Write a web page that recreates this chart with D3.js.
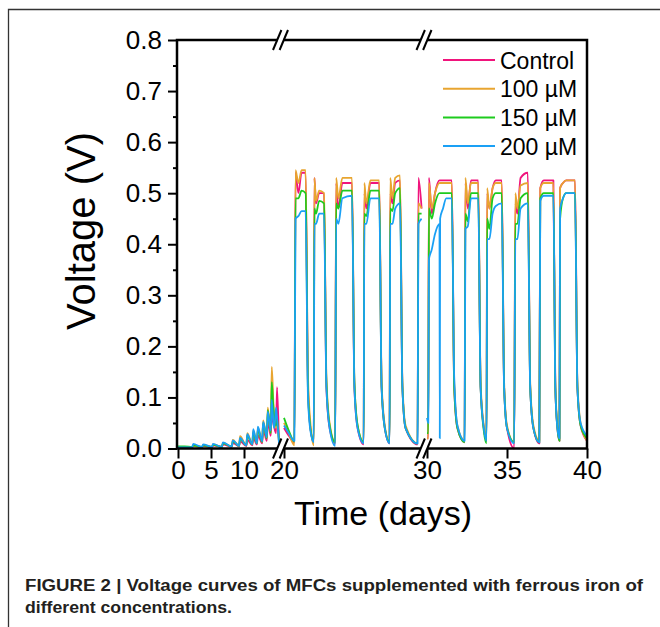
<!DOCTYPE html>
<html>
<head>
<meta charset="utf-8">
<script src="https://cdn.jsdelivr.net/npm/d3@7"></script>
<style>
  body { margin: 0; background: #fff; }
  text { font-family: "Liberation Sans", Arial, sans-serif; fill: #000; }
</style>
</head>
<body>
<div id="graph1"></div>
<script>
// legend names + colours
let seriesNames = ["Control", "100 \u00b5M", "150 \u00b5M", "200 \u00b5M"];
let seriesColors = ["#f0147c", "#e8a530", "#1ecb1e", "#1aa0f5"];

// y ticks
let yMajor = [0, 0.1, 0.2, 0.3, 0.4, 0.5, 0.6, 0.7, 0.8];
let yMinor = [0.05, 0.15, 0.25, 0.35, 0.45, 0.55, 0.65, 0.75];

// x ticks per axis segment
let xTicksA = [0, 5, 10];
let xTicksB = [20];
let xTicksC = [30, 35, 40];

// segment 1: days 0 - 15.3 (start-up)
let timeA = [0.0, 1.0, 2.15, 2.3, 3.65, 3.8, 5.15, 5.3, 6.65, 6.8, 8.15, 8.3, 9.25, 9.4, 10.35, 10.5,
    11.25, 11.4, 11.95, 12.1, 12.75, 12.9, 13.45, 13.6, 14.05, 14.2, 14.45, 14.6, 14.85, 15.0, 15.3];
let controlA = [0.002, 0.002, 0.002, 0.005, 0.002, 0.005, 0.002, 0.006, 0.003, 0.008, 0.003, 0.011, 0.004, 0.014, 0.005, 0.017,
    0.006, 0.021, 0.008, 0.026, 0.010, 0.038, 0.015, 0.055, 0.025, 0.070, 0.050, 0.040, 0.030, 0.120, 0.010];
let fe100A = [0.003, 0.003, 0.002, 0.006, 0.002, 0.007, 0.003, 0.008, 0.003, 0.011, 0.004, 0.017, 0.005, 0.024, 0.006, 0.030,
    0.008, 0.035, 0.010, 0.041, 0.013, 0.055, 0.020, 0.080, 0.030, 0.160, 0.090, 0.060, 0.040, 0.050, 0.010];
let fe150A = [0.004, 0.004, 0.003, 0.006, 0.003, 0.006, 0.003, 0.007, 0.003, 0.010, 0.004, 0.014, 0.005, 0.019, 0.006, 0.025,
    0.008, 0.031, 0.010, 0.037, 0.013, 0.050, 0.020, 0.075, 0.030, 0.130, 0.080, 0.060, 0.045, 0.060, 0.012];
let fe200A = [0.002, 0.002, 0.002, 0.009, 0.003, 0.008, 0.003, 0.009, 0.003, 0.012, 0.004, 0.016, 0.005, 0.021, 0.006, 0.028,
    0.008, 0.038, 0.010, 0.043, 0.014, 0.052, 0.022, 0.072, 0.035, 0.095, 0.050, 0.040, 0.080, 0.060, 0.010];

// segment 2: days 20 - 28.6
let timeB = [20.0, 20.3, 20.65, 20.72, 20.9, 21.1, 21.35, 21.5, 21.65, 21.86,
    21.9, 22.0, 22.2, 22.5, 22.65, 22.85, 23.2,
    23.26, 23.4, 23.65, 24.25, 24.4, 24.6, 24.98,
    25.02, 25.15, 25.4, 25.95, 26.1, 26.3, 26.6,
    26.64, 26.78, 26.95, 27.25, 27.4, 27.6, 28.35, 28.4, 28.6];
let controlB = [0.040, 0.025, 0.012, 0.540, 0.500, 0.540, 0.540, 0.120, 0.040, 0.012,
    0.530, 0.480, 0.500, 0.500, 0.120, 0.040, 0.010,
    0.520, 0.470, 0.520, 0.520, 0.120, 0.040, 0.008,
    0.500, 0.470, 0.520, 0.520, 0.120, 0.040, 0.010,
    0.500, 0.480, 0.520, 0.525, 0.120, 0.040, 0.008, 0.530, 0.470];
let fe100B = [0.050, 0.030, 0.006, 0.545, 0.520, 0.545, 0.545, 0.140, 0.050, 0.006,
    0.530, 0.485, 0.505, 0.500, 0.140, 0.050, 0.012,
    0.530, 0.490, 0.530, 0.530, 0.130, 0.045, 0.012,
    0.520, 0.480, 0.525, 0.525, 0.130, 0.045, 0.012,
    0.530, 0.490, 0.530, 0.535, 0.130, 0.045, 0.010, 0.480, 0.470];
let fe150B = [0.060, 0.035, 0.014, 0.490, 0.490, 0.505, 0.500, 0.110, 0.040, 0.014,
    0.470, 0.460, 0.485, 0.480, 0.130, 0.045, 0.012,
    0.480, 0.470, 0.505, 0.505, 0.130, 0.045, 0.012,
    0.460, 0.455, 0.505, 0.505, 0.120, 0.040, 0.012,
    0.470, 0.465, 0.500, 0.510, 0.120, 0.040, 0.010, 0.460, 0.460];
let fe200B = [0.045, 0.030, 0.015, 0.450, 0.455, 0.465, 0.465, 0.100, 0.035, 0.012,
    0.440, 0.440, 0.460, 0.460, 0.120, 0.040, 0.005,
    0.450, 0.440, 0.490, 0.495, 0.120, 0.040, 0.010,
    0.440, 0.440, 0.490, 0.490, 0.120, 0.040, 0.010,
    0.440, 0.440, 0.470, 0.480, 0.120, 0.040, 0.010, 0.440, 0.450];

// segment 3: days 30 - 40
let timeC = [30.0, 30.08, 30.12, 30.3, 30.5, 30.78, 30.8, 30.82, 31.0, 31.2, 31.55, 31.7, 31.9, 32.35,
    32.4, 32.55, 32.75, 33.2, 33.35, 33.55, 33.72,
    33.76, 33.9, 34.1, 34.3, 34.67, 34.82, 35.0, 35.45,
    35.52, 35.65, 35.85, 36.3, 36.45, 36.65, 37.02,
    37.08, 37.3, 37.9, 38.02, 38.15, 38.28,
    38.32, 38.5, 38.7, 39.25, 39.4, 39.6, 40.0];
let controlC = [0.020, 0.020, 0.530, 0.460, 0.500, 0.525, 0.525, 0.525, 0.525, 0.525, 0.525, 0.120, 0.040, 0.012,
    0.520, 0.470, 0.525, 0.525, 0.120, 0.040, 0.015,
    0.500, 0.470, 0.510, 0.525, 0.525, 0.120, 0.040, 0.000,
    0.480, 0.460, 0.530, 0.540, 0.120, 0.040, 0.010,
    0.510, 0.525, 0.525, 0.120, 0.040, 0.015,
    0.510, 0.520, 0.525, 0.525, 0.120, 0.045, 0.015];
let fe100C = [0.020, 0.020, 0.520, 0.470, 0.500, 0.520, 0.520, 0.520, 0.520, 0.520, 0.520, 0.130, 0.045, 0.015,
    0.530, 0.480, 0.520, 0.520, 0.130, 0.045, 0.020,
    0.510, 0.470, 0.510, 0.520, 0.520, 0.130, 0.045, 0.012,
    0.500, 0.470, 0.515, 0.520, 0.130, 0.045, 0.015,
    0.510, 0.520, 0.520, 0.130, 0.045, 0.020,
    0.510, 0.520, 0.525, 0.525, 0.130, 0.050, 0.015];
let fe150C = [0.030, 0.030, 0.470, 0.450, 0.480, 0.500, 0.500, 0.500, 0.500, 0.500, 0.500, 0.120, 0.040, 0.012,
    0.460, 0.445, 0.500, 0.500, 0.120, 0.035, 0.010,
    0.450, 0.430, 0.490, 0.500, 0.500, 0.120, 0.040, 0.012,
    0.440, 0.440, 0.490, 0.500, 0.120, 0.040, 0.012,
    0.490, 0.500, 0.500, 0.120, 0.040, 0.015,
    0.450, 0.490, 0.500, 0.500, 0.120, 0.045, 0.020];
let fe200C = [0.060, 0.050, 0.370, 0.390, 0.420, 0.440, 0.020, 0.450, 0.470, 0.490, 0.490, 0.140, 0.045, 0.015,
    0.430, 0.435, 0.490, 0.490, 0.120, 0.040, 0.015,
    0.410, 0.410, 0.460, 0.475, 0.480, 0.120, 0.040, 0.010,
    0.410, 0.410, 0.470, 0.480, 0.120, 0.040, 0.012,
    0.485, 0.495, 0.495, 0.120, 0.040, 0.020,
    0.470, 0.490, 0.500, 0.500, 0.120, 0.050, 0.025];

let width = 660, height = 627;
let plot = {left: 177, right: 587, top: 40, bottom: 448.5};

let svg = d3.select("#graph1")
    .append("svg")
    .attr("width", width)
    .attr("height", height);

// figure frame (top + left rule)
svg.append("path")
    .attr("d", "M8.5,627 L8.5,9.5 L660,9.5")
    .attr("fill", "none")
    .attr("stroke", "#333")
    .attr("stroke-width", 1.3);

let y = d3.scaleLinear().domain([0, 0.8]).range([plot.bottom, plot.top]);

// three pieces of the broken time axis
let segments = [
    {x: d3.scaleLinear().domain([0, 15.3]).range([178, 279]), t: timeA, vals: [controlA, fe100A, fe150A, fe200A], ticks: xTicksA},
    {x: d3.scaleLinear().domain([20, 28.6]).range([284, 421.6]), t: timeB, vals: [controlB, fe100B, fe150B, fe200B], ticks: xTicksB},
    {x: d3.scaleLinear().domain([30, 40]).range([427, 587]), t: timeC, vals: [controlC, fe100C, fe150C, fe200C], ticks: xTicksC}
];

let curves = svg.append("g");

segments.forEach(function(seg) {
    let line = d3.line()
        .x(function(d) { return seg.x(d[0]); })
        .y(function(d) { return y(d[1]); })
        .curve(d3.curveMonotoneX);

    seg.vals.forEach(function(vals, i) {
        curves.append("path")
            .datum(seg.t.map(function(t, j) { return [t, vals[j]]; }))
            .attr("fill", "none")
            .attr("stroke", seriesColors[i])
            .attr("stroke-width", 1.8)
            .attr("stroke-linejoin", "round")
            .attr("d", line);
    });

    // x ticks + labels
    let ax = svg.append("g")
        .attr("transform", `translate(0, ${plot.bottom})`)
        .call(d3.axisBottom(seg.x).tickValues(seg.ticks).tickSize(10).tickPadding(2).tickFormat(d3.format("d")));
    ax.select(".domain").remove();
    ax.selectAll("line").attr("stroke", "#000").attr("stroke-width", 2);
    ax.selectAll("text").style("font-size", "26px").attr("fill", "#000");
});

// y axis, major + minor
let yAxis = svg.append("g")
    .attr("transform", `translate(${plot.left}, 0)`)
    .call(d3.axisLeft(y).tickValues(yMajor).tickSize(9).tickPadding(6).tickFormat(d3.format(".1f")));
yAxis.select(".domain").remove();
yAxis.selectAll("line").attr("stroke", "#000").attr("stroke-width", 2);
yAxis.selectAll("text").style("font-size", "26px").attr("fill", "#000");

let yMinorAxis = svg.append("g")
    .attr("transform", `translate(${plot.left}, 0)`)
    .call(d3.axisLeft(y).tickValues(yMinor).tickSize(4).tickFormat(""));
yMinorAxis.select(".domain").remove();
yMinorAxis.selectAll("line").attr("stroke", "#000").attr("stroke-width", 2);

// plot frame
svg.append("rect")
    .attr("x", plot.left)
    .attr("y", plot.top)
    .attr("width", plot.right - plot.left)
    .attr("height", plot.bottom - plot.top)
    .attr("fill", "none")
    .attr("stroke", "#000")
    .attr("stroke-width", 2.5);

// axis break marks on top and bottom
[280.5, 424].forEach(function(cx) {
    [plot.top, plot.bottom].forEach(function(cy) {
        svg.append("line")
            .attr("x1", cx - 3).attr("x2", cx + 3)
            .attr("y1", cy).attr("y2", cy)
            .attr("stroke", "#fff")
            .attr("stroke-width", 4);
        [-3.3, 3.3].forEach(function(off) {
            svg.append("line")
                .attr("x1", cx + off - 4.2).attr("y1", cy + 10)
                .attr("x2", cx + off + 4.2).attr("y2", cy - 10)
                .attr("stroke", "#000")
                .attr("stroke-width", 2);
        });
    });
});

// legend
let legend = svg.append("g").attr("transform", "translate(443, 60)");
seriesNames.forEach(function(name, i) {
    let row = legend.append("g").attr("transform", `translate(0, ${i * 28.7})`);
    row.append("line")
        .attr("x1", 0).attr("x2", 52)
        .attr("stroke", seriesColors[i])
        .attr("stroke-width", 2);
    row.append("text")
        .attr("x", 57)
        .attr("y", 8.5)
        .style("font-size", "23px")
        .text(name);
});

// axis titles
svg.append("text")
    .attr("transform", "translate(383, 525)")
    .style("text-anchor", "middle")
    .style("font-size", "34px")
    .text("Time (days)");

svg.append("text")
    .attr("transform", "translate(95, 231) rotate(-90)")
    .style("text-anchor", "middle")
    .style("font-size", "40px")
    .text("Voltage (V)");

// caption
let caption = svg.append("g").style("font-weight", "bold");
caption.append("text")
    .attr("x", 25).attr("y", 591)
    .attr("textLength", 618)
    .attr("lengthAdjust", "spacingAndGlyphs")
    .style("font-size", "16px")
    .style("fill", "#231f20")
    .text("FIGURE 2 | Voltage curves of MFCs supplemented with ferrous iron of");
caption.append("text")
    .attr("x", 25).attr("y", 613)
    .attr("textLength", 207)
    .attr("lengthAdjust", "spacingAndGlyphs")
    .style("font-size", "16px")
    .style("fill", "#231f20")
    .text("different concentrations.");
</script>
</body>
</html>
